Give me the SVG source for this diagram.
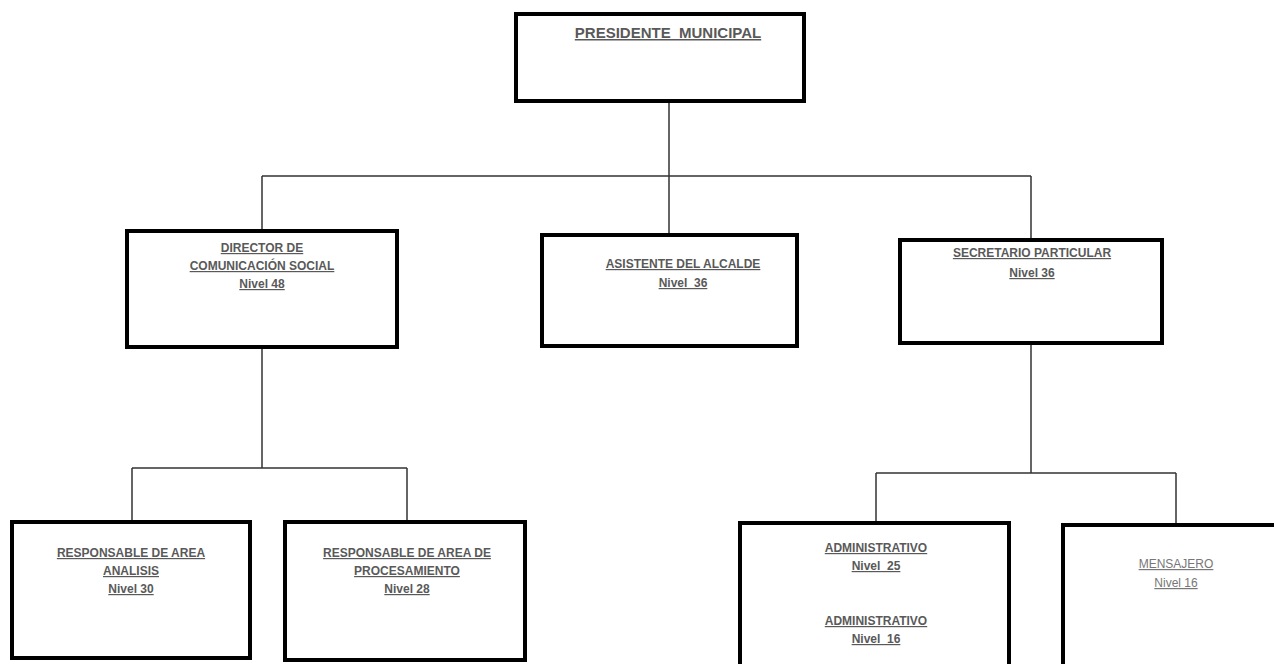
<svg xmlns="http://www.w3.org/2000/svg" width="1274" height="664" viewBox="0 0 1274 664">
<style>
.box{fill:#fff;stroke:#000;stroke-width:4}
.ln{fill:none;stroke:#333;stroke-width:1.5}
.t{font-family:"Liberation Sans",Arial,sans-serif;font-size:12px;font-weight:bold;fill:#595959;text-anchor:middle;text-decoration:underline}
.tl{font-weight:normal;fill:#777}
.big{font-size:15px}
</style>
<rect width="1274" height="664" fill="#fff"/>
<g id="connectors">
<path class="ln" d="M669 101V176M262 176H1031M262 176V231M669 176V235M1031 176V240"/>
<path class="ln" d="M262 347V468M132 468H407M132 468V522M407 468V522"/>
<path class="ln" d="M1031 343V473M876 473H1176M876 473V523M1176 473V525"/>
</g>
<g id="presidente">
<rect class="box" x="516" y="14" width="288" height="87"/>
<text class="t big" x="668" y="38" xml:space="preserve">PRESIDENTE  MUNICIPAL</text>
</g>
<g id="director">
<rect class="box" x="127" y="231" width="270" height="116"/>
<text class="t" x="262" y="252">DIRECTOR DE</text>
<text class="t" x="262" y="270">COMUNICACIÓN SOCIAL</text>
<text class="t" x="262" y="288">Nivel 48</text>
</g>
<g id="asistente">
<rect class="box" x="542" y="235" width="255" height="111"/>
<text class="t" x="683" y="268">ASISTENTE DEL ALCALDE</text>
<text class="t" x="683" y="287" xml:space="preserve">Nivel  36</text>
</g>
<g id="secretario">
<rect class="box" x="900" y="240" width="262" height="103"/>
<text class="t" x="1032" y="257">SECRETARIO PARTICULAR</text>
<text class="t" x="1032" y="277">Nivel 36</text>
</g>
<g id="analisis">
<rect class="box" x="12" y="522" width="238" height="136"/>
<text class="t" x="131" y="557">RESPONSABLE DE AREA</text>
<text class="t" x="131" y="575">ANALISIS</text>
<text class="t" x="131" y="593">Nivel 30</text>
</g>
<g id="procesamiento">
<rect class="box" x="285" y="522" width="240" height="138"/>
<text class="t" x="407" y="557">RESPONSABLE DE AREA DE</text>
<text class="t" x="407" y="575">PROCESAMIENTO</text>
<text class="t" x="407" y="593">Nivel 28</text>
</g>
<g id="administrativo">
<rect class="box" x="740" y="523" width="269" height="150"/>
<text class="t" x="876" y="552">ADMINISTRATIVO</text>
<text class="t" x="876" y="570" xml:space="preserve">Nivel  25</text>
<text class="t" x="876" y="625">ADMINISTRATIVO</text>
<text class="t" x="876" y="643" xml:space="preserve">Nivel  16</text>
</g>
<g id="mensajero">
<rect class="box" x="1063" y="525" width="230" height="150"/>
<text class="t tl" x="1176" y="568">MENSAJERO</text>
<text class="t tl" x="1176" y="587">Nivel 16</text>
</g>
</svg>
